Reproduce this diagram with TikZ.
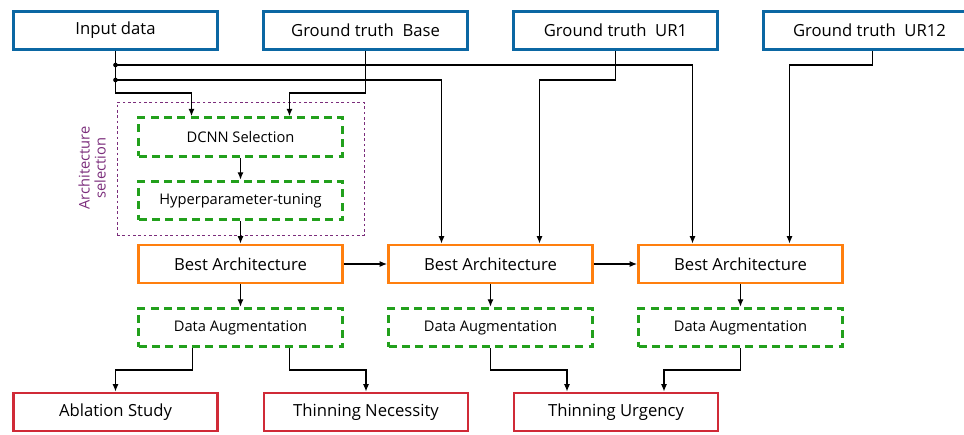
\documentclass[tikz,border=0pt]{standalone}
\usepackage{fontspec}
\setmainfont{Open Sans}
\usetikzlibrary{positioning,calc,fit,arrows.meta}

\definecolor{gtblue}{HTML}{0B67A3}
\definecolor{bestorange}{HTML}{FF7F0E}
\definecolor{stepgreen}{HTML}{22A01C}
\definecolor{outred}{HTML}{D02A37}
\definecolor{selpurple}{HTML}{7B2D7B}

\tikzset{
  inbox/.style={draw=gtblue,line width=2.2pt,minimum width=153pt,minimum height=28.5pt},
  bestbox/.style={draw=bestorange,line width=2.2pt,minimum width=153pt,minimum height=28.5pt},
  stepbox/.style={draw=stepgreen,line width=2.2pt,dash pattern=on 6pt off 4pt,
    minimum width=153pt,minimum height=29pt,font=\fontsize{11}{13}\selectfont},
  outbox/.style={draw=outred,line width=2.2pt,minimum width=153pt,minimum height=28.5pt},
  selbox/.style={draw=selpurple,line width=0.6pt,dash pattern=on 2pt off 2pt},
  arr/.style={-{Latex[length=5.5pt,width=4.5pt]},line width=0.9pt},
  dot/.style={circle,fill,inner sep=0pt,minimum size=3.5pt}
}

\begin{document}
\begin{tikzpicture}[x=0.75pt,y=-0.75pt,every node/.style={font=\fontsize{12.5}{15}\selectfont}]
  \useasboundingbox (0,0) rectangle (964,435);

  % inputs
  \node[inbox] (in)   at (115.5,30.5) {Input data};
  \node[inbox] (gtb)  at (365.5,30.5) {Ground truth~ Base};
  \node[inbox] (ur1)  at (615.5,30.5) {Ground truth~ UR1};
  \node[inbox,minimum width=159pt] (ur12) at (869.5,30.5) {Ground truth~ UR12\hspace{6pt}};

  % architecture selection
  \node[stepbox] (dcnn) at (240.5,137) {DCNN Selection};
  \node[stepbox] (hyp)  at (240.5,200.5) {Hyperparameter-tuning};
  \node[selbox,fit=(dcnn)(hyp),inner xsep=15pt,inner ysep=10.5pt] (sel) {};
  \node[rotate=90,align=center,text=selpurple,font=\fontsize{11}{12}\selectfont] (sellbl) at (92,168) {Architecture\\selection};

  \node[bestbox] (ba1) at (240.5,264) {Best Architecture};
  \node[bestbox] (ba2) at (490.5,264) {Best Architecture};
  \node[bestbox] (ba3) at (740.5,264) {Best Architecture};

  \node[stepbox] (da1) at (240.5,327.5) {Data Augmentation};
  \node[stepbox] (da2) at (490.5,327.5) {Data Augmentation};
  \node[stepbox] (da3) at (740.5,327.5) {Data Augmentation};

  % outputs
  \node[outbox] (abl) at (115.5,412) {Ablation Study};
  \node[outbox] (nec) at (366,412) {Thinning Necessity};
  \node[outbox] (urg) at (616,412) {Thinning Urgency};

  % bus rows
  \coordinate (row1) at (0,65);
  \coordinate (row2) at (0,80);
  \coordinate (row3) at (0,93);
  \coordinate (row4) at (0,370);

  \draw[arr] (in.south) -- (in.south |- row3) -| ($(dcnn.north)+(-49,0)$);
  \draw[arr] (gtb.south) -- (gtb.south |- row3) -| ($(dcnn.north)+(49,0)$);
  \draw[arr] (in.south |- row1) -| ($(ba3.north)+(-48,0)$);
  \draw[arr] (in.south |- row2) -| ($(ba2.north)+(-49,0)$);
  \draw[arr] (ur1.south) -- (ur1.south |- row2) -| ($(ba2.north)+(49,0)$);
  \draw[arr] ($(ur12.south)+(3,0)$) |- ($(ba3.north |- row1)+(49,0)$) -- ($(ba3.north)+(49,0)$);
  \node[dot] (j1) at (in.south |- row1) {};
  \node[dot] (j2) at (in.south |- row2) {};

  \draw[arr] (dcnn) -- (hyp);
  \draw[arr] (hyp) -- (ba1);
  \draw[arr] (ba1) -- (ba2);
  \draw[arr] (ba2) -- (ba3);
  \draw[arr] (ba1) -- (da1);
  \draw[arr] (ba2) -- (da2);
  \draw[arr] (ba3) -- (da3);

  \draw[arr] ($(da1.south)+(-48,0)$) |- (abl.north |- row4) -- (abl.north);
  \draw[arr] ($(da1.south)+(49,0)$) |- (nec.north |- row4) -- (nec.north);
  \draw[arr] (da2.south) |- ($(urg.north |- row4)+(-49,0)$) -- ($(urg.north)+(-49,0)$);
  \draw[arr] (da3.south) |- ($(urg.north |- row4)+(48,0)$) -- ($(urg.north)+(48,0)$);

\end{tikzpicture}
\end{document}
